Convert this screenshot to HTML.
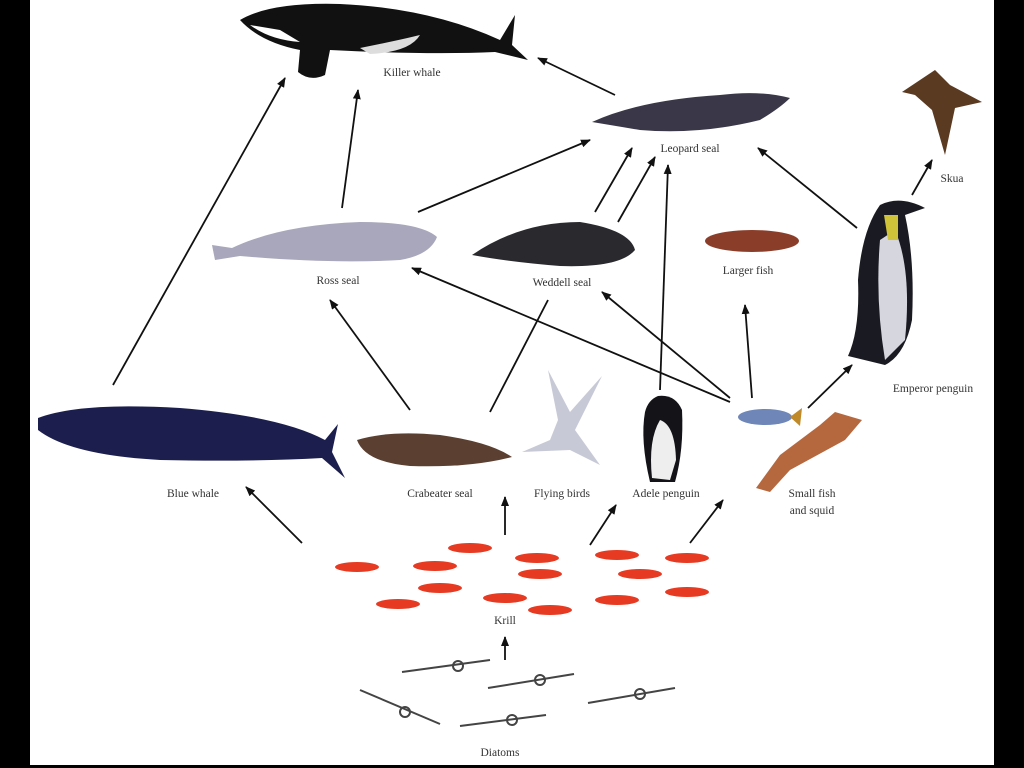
<!DOCTYPE html>
<html><head><meta charset="utf-8"><style>
html,body{margin:0;padding:0;background:#000;}
svg{display:block}
text{font-family:"Liberation Serif",serif;font-size:11.5px;fill:#333;}
</style></head><body>
<svg width="1024" height="768" viewBox="0 0 1024 768" xmlns="http://www.w3.org/2000/svg">
<defs><marker id="a" markerWidth="10" markerHeight="8" refX="9" refY="4" orient="auto" markerUnits="userSpaceOnUse"><path d="M0,0 L10,4 L0,8 Z" fill="#111"/></marker></defs>
<rect x="0" y="0" width="1024" height="768" fill="#000"/>
<rect x="30" y="0" width="964" height="765" fill="#fff"/>
<!-- killer whale -->
<path d="M240,20 Q270,2 340,4 Q430,8 500,40 L515,15 L512,45 L528,60 L495,52 Q430,55 330,50 L325,75 Q310,82 298,72 L300,50 Q260,42 240,20 Z" fill="#111"/>
<path d="M250,25 Q270,40 300,42 L280,30 Z" fill="#fff"/>
<path d="M360,48 Q400,40 420,35 Q410,52 370,54 Z" fill="#ddd"/>
<!-- leopard seal -->
<path d="M592,122 Q640,100 720,95 Q760,90 790,98 Q780,108 760,120 Q700,135 640,130 Z" fill="#3a3848"/>
<!-- skua -->
<path d="M902,92 L935,70 L950,85 L982,102 L955,108 L945,155 L932,110 L915,95 Z" fill="#5a3a20"/>
<!-- ross seal -->
<path d="M212,245 L232,248 Q280,225 360,222 Q420,222 437,237 Q430,255 400,260 Q330,264 240,256 L215,260 Z" fill="#a8a7bb"/>
<!-- weddell seal -->
<path d="M472,255 Q520,222 580,222 Q630,230 635,250 Q620,268 560,266 Q510,262 472,255 Z" fill="#2a2a2e"/>
<!-- larger fish -->
<ellipse cx="752" cy="241" rx="47" ry="11" fill="#8a3e2a"/>
<!-- emperor penguin -->
<path d="M880,205 Q900,195 925,208 L905,215 Q915,260 912,320 Q905,355 885,365 L848,356 Q860,330 858,280 Q862,230 880,205 Z" fill="#1a1a22"/>
<path d="M895,230 Q912,270 905,340 L885,360 Q875,300 880,240 Z" fill="#d6d6de"/>
<path d="M884,215 L898,215 L898,240 L888,240 Z" fill="#cfc33a"/>
<!-- blue whale -->
<path d="M38,418 Q80,402 180,408 Q280,416 325,440 L338,424 L332,452 L345,478 L322,458 Q250,462 160,460 Q70,455 38,430 Z" fill="#1c1f4e"/>
<!-- crabeater seal -->
<path d="M357,440 Q390,430 440,435 Q490,442 512,457 Q470,468 410,466 Q365,462 357,440 Z" fill="#5b3f30"/>
<!-- birds -->
<path d="M558,420 L548,370 L570,412 L602,376 L575,430 L600,465 L570,450 L522,452 L550,440 Z" fill="#c7cad6"/>
<!-- adele penguin -->
<path d="M658,396 Q675,394 682,410 Q684,450 675,482 L650,482 Q640,440 645,412 Q648,400 658,396 Z" fill="#141418"/>
<path d="M660,420 Q675,425 676,460 L670,480 L652,478 Q648,440 660,420 Z" fill="#eee"/>
<!-- small fish -->
<ellipse cx="765" cy="417" rx="27" ry="8" fill="#6f86b8"/>
<path d="M790,417 L802,408 L800,426 Z" fill="#c08a2a"/>
<!-- squid -->
<path d="M835,412 L862,420 L845,440 L790,470 L770,492 L756,488 L780,455 L820,425 Z" fill="#b5683e"/>
<!-- krill -->
<g fill="#e63a22">
<ellipse cx="357" cy="567" rx="22" ry="5"/><ellipse cx="435" cy="566" rx="22" ry="5"/><ellipse cx="470" cy="548" rx="22" ry="5"/><ellipse cx="537" cy="558" rx="22" ry="5"/><ellipse cx="617" cy="555" rx="22" ry="5"/><ellipse cx="687" cy="558" rx="22" ry="5"/>
<ellipse cx="440" cy="588" rx="22" ry="5"/><ellipse cx="540" cy="574" rx="22" ry="5"/><ellipse cx="640" cy="574" rx="22" ry="5"/>
<ellipse cx="398" cy="604" rx="22" ry="5"/><ellipse cx="505" cy="598" rx="22" ry="5"/><ellipse cx="550" cy="610" rx="22" ry="5"/><ellipse cx="617" cy="600" rx="22" ry="5"/><ellipse cx="687" cy="592" rx="22" ry="5"/>
</g>
<!-- diatoms -->
<g stroke="#444" stroke-width="2" fill="none">
<line x1="402" y1="672" x2="490" y2="660"/><line x1="488" y1="688" x2="574" y2="674"/><line x1="360" y1="690" x2="440" y2="724"/><line x1="460" y1="726" x2="546" y2="715"/><line x1="588" y1="703" x2="675" y2="688"/>
<circle cx="458" cy="666" r="5"/><circle cx="540" cy="680" r="5"/><circle cx="405" cy="712" r="5"/><circle cx="512" cy="720" r="5"/><circle cx="640" cy="694" r="5"/>
</g>
<!-- arrows -->
<g stroke="#111" stroke-width="1.8" marker-end="url(#a)">
<line x1="113" y1="385" x2="285" y2="78"/>
<line x1="342" y1="208" x2="358" y2="90"/>
<line x1="615" y1="95" x2="538" y2="58"/>
<line x1="418" y1="212" x2="590" y2="140"/>
<line x1="595" y1="212" x2="632" y2="148"/>
<line x1="618" y1="222" x2="655" y2="157"/>
<line x1="660" y1="390" x2="668" y2="165"/>
<line x1="857" y1="228" x2="758" y2="148"/>
<line x1="912" y1="195" x2="932" y2="160"/>
<line x1="410" y1="410" x2="330" y2="300"/>
<line x1="730" y1="402" x2="412" y2="268"/>
<line x1="730" y1="398" x2="602" y2="292"/>
<line x1="752" y1="398" x2="745" y2="305"/>
<line x1="808" y1="408" x2="852" y2="365"/>
<line x1="302" y1="543" x2="246" y2="487"/>
<line x1="505" y1="535" x2="505" y2="497"/>
<line x1="590" y1="545" x2="616" y2="505"/>
<line x1="690" y1="543" x2="723" y2="500"/>
<line x1="505" y1="660" x2="505" y2="637"/>
</g>
<line x1="490" y1="412" x2="548" y2="300" stroke="#111" stroke-width="1.8"/>
<!-- labels -->
<g text-anchor="middle">
<text x="412" y="76">Killer whale</text>
<text x="690" y="152">Leopard seal</text>
<text x="952" y="182">Skua</text>
<text x="338" y="284">Ross seal</text>
<text x="562" y="286">Weddell seal</text>
<text x="748" y="274">Larger fish</text>
<text x="933" y="392">Emperor penguin</text>
<text x="193" y="497">Blue whale</text>
<text x="440" y="497">Crabeater seal</text>
<text x="562" y="497">Flying birds</text>
<text x="666" y="497">Adele penguin</text>
<text x="812" y="497">Small fish</text>
<text x="812" y="514">and squid</text>
<text x="505" y="624">Krill</text>
<text x="500" y="756">Diatoms</text>
</g>
</svg>
</body></html>
